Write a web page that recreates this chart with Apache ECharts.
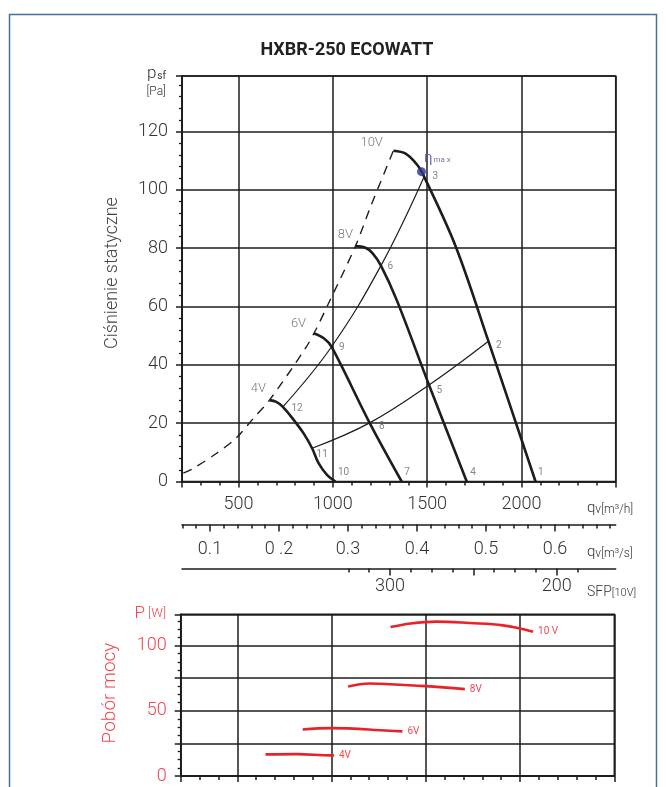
<!DOCTYPE html>
<html>
<head>
<meta charset="utf-8">
<title>HXBR-250 ECOWATT</title>
<script src="https://cdn.jsdelivr.net/npm/echarts@6/dist/echarts.min.js"></script>
<style>
  html, body { margin: 0; padding: 0; background: #fff; }
  #chart { width: 666px; height: 787px; }
</style>
</head>
<body>
<div id="chart"></div>
<script>
// static pressure p_sf [Pa] against air flow q_v [m3/h]
const pressure10V = [[1321, 113.4], [1386, 112.4], [1448, 108.5], [1484, 104.5], [1652, 80.5], [1825, 48.1], [2075, 0]];
const pressure8V = [[1120, 80.7], [1170, 80.2], [1210, 78.3], [1255, 74], [1340, 62], [1510, 33.1], [1710, 0]];
const pressure6V = [[898, 50.8], [952, 49.1], [993, 46.2], [1195, 20.1], [1365, 0]];
const pressure4V = [[664, 27.9], [700, 27.3], [735, 25.6], [790, 21.3], [845, 16.5], [890, 11.4], [925, 6.2], [970, 2.2], [1014, 0]];
const maxEnvelope = [[207, 2.9], [260, 4.5], [384, 9.7], [486, 14.8], [579, 21.7], [664, 27.9], [854, 45.6], [911, 52.2], [973, 60.5], [1120, 80.7], [1200, 94.2], [1321, 113.4]];
const systemLineA = [[735, 25.6], [993, 46.2], [1255, 74], [1484, 104.5]];
const systemLineB = [[890, 11.4], [1195, 20.1], [1510, 33.1], [1825, 48.1]];
const workPoints = [[2075, 0], [1825, 48.1], [1484, 104.5], [1710, 0], [1510, 33.1], [1255, 74], [1365, 0], [1195, 20.1], [993, 46.2], [1014, 0], [890, 11.4], [735, 25.6]];
const workPointNames = ['1', '2', '3', '4', '5', '6', '7', '8', '9', '10', '11', '12'];
const voltNames = ['10V', '8V', '6V', '4V'];
const etaMax = [1470, 106.2];

// power input P [W] against q_v [m3/h]
const power10V = [[1313, 114.2], [1420, 117], [1557, 118.4], [1733, 117.3], [1910, 115.5], [2069, 110.7]];
const power8V = [[1088, 68.6], [1203, 70.9], [1309, 70.4], [1498, 68.9], [1707, 66.6]];
const power6V = [[847, 35.7], [998, 36.7], [1309, 34.7], [1376, 34.2]];
const power4V = [[650, 16.6], [815, 16.8], [998, 15.8], [1013, 15.8]];

// axis ticks and labels
const qhLabels = [500, 1000, 1500, 2000];
const qsValues = [0.1, 0.2, 0.3, 0.4, 0.5, 0.6];
const qsLabels = ['0.1', '0 .2', '0.3', '0.4', '0.5', '0.6'];
const qsMinorTicks = [0.06, 0.08, 0.1, 0.12, 0.14, 0.16, 0.18, 0.2, 0.22, 0.24, 0.26, 0.28, 0.3, 0.32, 0.34, 0.36, 0.38, 0.4, 0.42, 0.44, 0.46, 0.48, 0.5, 0.52, 0.54, 0.56, 0.58, 0.6, 0.62, 0.64, 0.66, 0.68];
const sfpValues = [300, 200];
const sfpMajorTicks = [300, 250, 200];
const sfpMinorTicks = [325, 312.5, 300, 287.5, 275, 262.5, 250, 237.5, 225, 212.5, 200, 187.5];
const powerLabels = [0, 50, 100];

const FONT = 'Roboto, "DejaVu Sans", sans-serif';
const INK = '#1d1d1d';
const GREY = '#333';
const RED = '#e8222b';
const PINK = '#f04750';

// label nudges (styling only)
const voltOffsets = [[-10, -8], [-2, -11], [-7, -10], [-3, -11]];
const workOffsets = [[2, -9], [7, 4], [8, 0], [3, -9], [7, 6], [6, 1], [2, -9], [9, 4], [7, 1], [2, -9], [4, 6], [8, 2]];

const chart = echarts.init(document.getElementById('chart'), null, { renderer: 'canvas' });

const gridLine = { color: INK, width: 1.5 };

const flowAxis = (gridIndex, withLabels) => ({
  gridIndex: gridIndex, type: 'value', position: 'bottom', min: 200, max: 2500, interval: 100,
  axisLine: { show: true, onZero: false, lineStyle: gridLine },
  axisTick: { show: true, length: 4, lineStyle: gridLine },
  splitLine: { show: false },
  axisLabel: withLabels ? {
    formatter: v => qhLabels.includes(v) ? String(v) : '',
    fontSize: 18, color: GREY, fontFamily: FONT, fontWeight: 300, margin: 14
  } : { show: false }
});

const flowGrid = (gridIndex) => ({
  gridIndex: gridIndex, type: 'value', position: 'bottom', min: 200, max: 2500,
  axisLine: { show: false, onZero: false },
  axisTick: { show: true, length: 6, lineStyle: gridLine },
  axisLabel: { show: false },
  splitLine: { show: true, lineStyle: gridLine }
});

const thick = (name, data) => ({
  name: name, type: 'line', xAxisIndex: 1, yAxisIndex: 0, data: data,
  smooth: 0.35, showSymbol: false, silent: true,
  lineStyle: { color: INK, width: 2.6 }, z: 5
});

const powerLine = (name, data) => ({
  name: name, type: 'line', xAxisIndex: 7, yAxisIndex: 1, data: data,
  smooth: 0.4, showSymbol: false, silent: true,
  lineStyle: { color: RED, width: 2.6 }, z: 5,
  endLabel: { show: true, formatter: name, color: PINK, fontSize: 10, fontFamily: FONT, distance: 5 }
});

const option = {
  animation: false,
  backgroundColor: '#fff',
  grid: [
    { left: 182, top: 76, width: 433.7, height: 405.5, show: true, borderColor: INK, borderWidth: 1.5 },
    { left: 180.7, top: 614.3, width: 433.6, height: 161.7, show: true, borderColor: INK, borderWidth: 1.5 }
  ],
  xAxis: [
    flowGrid(0),
    flowAxis(0, true),
    {
      gridIndex: 0, type: 'value', min: 0.0594, max: 0.688, offset: 43, position: 'bottom',
      axisLine: { show: true, onZero: false, lineStyle: gridLine },
      axisTick: { show: true, length: 4, customValues: qsMinorTicks, lineStyle: gridLine },
      axisLabel: {
        customValues: qsValues,
        formatter: v => qsLabels[Math.round(v * 10) - 1],
        fontSize: 18, color: GREY, fontFamily: FONT, fontWeight: 300, margin: 16
      },
      splitLine: { show: false }
    },
    {
      gridIndex: 0, type: 'value', min: 0.0594, max: 0.688, offset: 43, position: 'bottom',
      axisLine: { show: false, onZero: false },
      axisTick: { show: true, length: 7, customValues: qsValues, lineStyle: gridLine },
      axisLabel: { show: false }, splitLine: { show: false }
    },
    {
      gridIndex: 0, type: 'value', inverse: true, min: 164.6, max: 424.8, offset: 87, position: 'bottom',
      axisLine: { show: true, onZero: false, lineStyle: gridLine },
      axisTick: { show: true, length: 4, customValues: sfpMinorTicks, lineStyle: gridLine },
      axisLabel: {
        customValues: sfpValues,
        fontSize: 18, color: GREY, fontFamily: FONT, fontWeight: 300, margin: 9
      },
      splitLine: { show: false }
    },
    {
      gridIndex: 0, type: 'value', inverse: true, min: 164.6, max: 424.8, offset: 87, position: 'bottom',
      axisLine: { show: false, onZero: false },
      axisTick: { show: true, length: 7, customValues: sfpMajorTicks, lineStyle: gridLine },
      axisLabel: { show: false }, splitLine: { show: false }
    },
    flowGrid(1),
    flowAxis(1, false)
  ],
  yAxis: [
    {
      gridIndex: 0, type: 'value', min: 0, max: 139, interval: 20,
      axisLine: { show: true, onZero: false, lineStyle: gridLine },
      axisTick: { show: true, length: 6, lineStyle: gridLine },
      minorTick: { show: true, splitNumber: 5, length: 3, lineStyle: { color: INK, width: 1.3 } },
      splitLine: { show: true, lineStyle: gridLine },
      axisLabel: {
        formatter: v => v % 20 === 0 ? String(v) : '',
        fontSize: 18, color: GREY, fontFamily: FONT, fontWeight: 300, margin: 14
      }
    },
    {
      gridIndex: 1, type: 'value', min: 0, max: 124, interval: 25,
      axisLine: { show: true, onZero: false, lineStyle: gridLine },
      axisTick: { show: true, length: 6, lineStyle: gridLine },
      minorTick: { show: true, splitNumber: 4, length: 3, lineStyle: { color: INK, width: 1.3 } },
      splitLine: { show: true, lineStyle: gridLine },
      axisLabel: {
        formatter: v => powerLabels.includes(v) ? String(v) : '',
        fontSize: 18, color: PINK, fontFamily: FONT, fontWeight: 300, margin: 14
      }
    }
  ],
  series: [
    {
      name: 'max', type: 'line', xAxisIndex: 1, yAxisIndex: 0, data: maxEnvelope,
      smooth: 0.3, showSymbol: false, silent: true, z: 4,
      lineStyle: { color: INK, width: 1.4, type: [9, 7] }
    },
    {
      name: 'system A', type: 'line', xAxisIndex: 1, yAxisIndex: 0, data: systemLineA,
      smooth: 0.4, showSymbol: false, silent: true, z: 4,
      lineStyle: { color: INK, width: 1.2 }
    },
    {
      name: 'system B', type: 'line', xAxisIndex: 1, yAxisIndex: 0, data: systemLineB,
      smooth: 0.4, showSymbol: false, silent: true, z: 4,
      lineStyle: { color: INK, width: 1.2 }
    },
    thick('10V', pressure10V),
    thick('8V', pressure8V),
    thick('6V', pressure6V),
    thick('4V', pressure4V),
    {
      name: 'volt labels', type: 'scatter', xAxisIndex: 1, yAxisIndex: 0, silent: true, z: 8,
      symbolSize: 1, itemStyle: { color: 'transparent' },
      data: [pressure10V, pressure8V, pressure6V, pressure4V].map((c, i) => ({
        value: c[0], name: voltNames[i], label: { offset: voltOffsets[i] }
      })),
      label: {
        show: true, position: 'left', distance: 0, formatter: p => p.name,
        fontSize: 13, color: '#555', fontFamily: FONT, fontWeight: 300
      }
    },
    {
      name: 'points', type: 'scatter', xAxisIndex: 1, yAxisIndex: 0, silent: true, z: 8,
      symbolSize: 1, itemStyle: { color: 'transparent' },
      data: workPoints.map((pt, i) => ({ value: pt, name: workPointNames[i], label: { offset: workOffsets[i] } })),
      label: {
        show: true, position: 'right', distance: 0, formatter: p => p.name,
        fontSize: 10, color: '#666', fontFamily: FONT
      }
    },
    {
      name: 'eta max', type: 'scatter', xAxisIndex: 1, yAxisIndex: 0, silent: true, z: 9,
      symbolSize: 9, itemStyle: { color: '#2d3190' },
      data: [etaMax],
      label: {
        show: true, position: [7, -16], formatter: '{e|η}{m|ma x}',
        rich: {
          e: { fontSize: 15, color: '#4a4fae', fontFamily: FONT },
          m: { fontSize: 8, color: '#4a4fae', fontFamily: FONT, padding: [3, 0, 0, 1] }
        }
      }
    },
    powerLine('10 V', power10V),
    powerLine('8V', power8V),
    powerLine('6V', power6V),
    powerLine('4V', power4V)
  ],
  graphic: [
    {
      type: 'rect', silent: true, z: -1,
      shape: { x: 9.5, y: 14.5, width: 647, height: 800 },
      style: { fill: 'none', stroke: '#46709a', lineWidth: 1.5 }
    },
    {
      type: 'text', x: 347, y: 50, silent: true,
      style: { text: 'HXBR-250 ECOWATT', align: 'center', verticalAlign: 'middle', fontSize: 18, fontWeight: 'bold', fill: '#222', fontFamily: FONT }
    },
    {
      type: 'text', x: 166, y: 74, silent: true,
      style: {
        text: '{p|p}{s|sf}', align: 'right', verticalAlign: 'middle',
        rich: {
          p: { fontSize: 17, fill: GREY, fontFamily: FONT, fontWeight: 300 },
          s: { fontSize: 10, fill: GREY, fontFamily: FONT, padding: [4, 0, 0, 1] }
        }
      }
    },
    {
      type: 'text', x: 166, y: 91.5, silent: true,
      style: { text: '[Pa]', align: 'right', verticalAlign: 'middle', fontSize: 12, fill: GREY, fontFamily: FONT, fontWeight: 300 }
    },
    {
      type: 'text', x: 112, y: 273, rotation: Math.PI / 2, silent: true,
      style: { text: 'Ciśnienie statyczne', align: 'center', verticalAlign: 'middle', fontSize: 18, fill: '#444', fontFamily: FONT, fontWeight: 300 }
    },
    {
      type: 'text', x: 587, y: 508, silent: true,
      style: {
        text: '{q|q}{s|v[m³/h]}', verticalAlign: 'middle',
        rich: {
          q: { fontSize: 15, fill: GREY, fontFamily: FONT, fontWeight: 300 },
          s: { fontSize: 12, fill: GREY, fontFamily: FONT, fontWeight: 300, padding: [3, 0, 0, 0] }
        }
      }
    },
    {
      type: 'text', x: 587, y: 552, silent: true,
      style: {
        text: '{q|q}{s|v[m³/s]}', verticalAlign: 'middle',
        rich: {
          q: { fontSize: 15, fill: GREY, fontFamily: FONT, fontWeight: 300 },
          s: { fontSize: 12, fill: GREY, fontFamily: FONT, fontWeight: 300, padding: [3, 0, 0, 0] }
        }
      }
    },
    {
      type: 'text', x: 587, y: 592, silent: true,
      style: {
        text: '{a|SFP}{b|[10V]}', verticalAlign: 'middle',
        rich: {
          a: { fontSize: 14, fill: GREY, fontFamily: FONT, fontWeight: 300 },
          b: { fontSize: 11, fill: GREY, fontFamily: FONT, fontWeight: 300, padding: [3, 0, 0, 0] }
        }
      }
    },
    {
      type: 'text', x: 166, y: 614, silent: true,
      style: {
        text: '{p|P}{w| [W]}', align: 'right', verticalAlign: 'middle',
        rich: {
          p: { fontSize: 17, fill: PINK, fontFamily: FONT, fontWeight: 300 },
          w: { fontSize: 13, fill: PINK, fontFamily: FONT, fontWeight: 300 }
        }
      }
    },
    {
      type: 'text', x: 110, y: 693, rotation: Math.PI / 2, silent: true,
      style: { text: 'Pobór mocy', align: 'center', verticalAlign: 'middle', fontSize: 19, fill: PINK, fontFamily: FONT, fontWeight: 300 }
    }
  ]
};

chart.setOption(option);
</script>
</body>
</html>
